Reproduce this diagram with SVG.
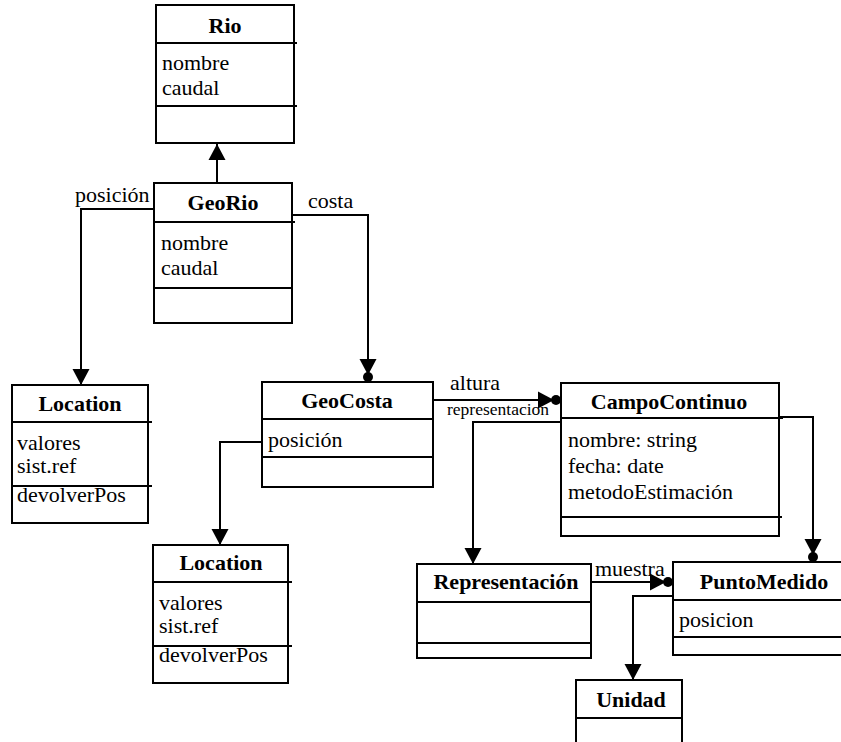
<svg xmlns="http://www.w3.org/2000/svg" width="841" height="742" viewBox="0 0 841 742">
  <style>
    .box { fill: #fff; stroke: #000; stroke-width: 2; }
    .sep { stroke: #000; stroke-width: 2; }
    text { font-family: "Liberation Serif", "DejaVu Serif", serif; fill: #000; }
    .title { font-size: 22px; font-weight: bold; text-anchor: middle; }
    .attr { font-size: 22px; }
    .lbl { font-size: 22px; }
    .small { font-size: 17.5px; }
    .conn { fill: none; stroke: #000; stroke-width: 2; }
  </style>
  <defs>
    <!-- filled triangular arrowhead -->
    <marker id="arrow" markerUnits="userSpaceOnUse" markerWidth="17" markerHeight="18" viewBox="0 0 17 18" refX="16" refY="9" orient="auto">
      <path d="M0,0.5 L16,9 L0,17.5 z" fill="#000"/>
    </marker>
    <!-- arrowhead followed by a dot (qualified association end) -->
    <marker id="arrowdot" markerUnits="userSpaceOnUse" markerWidth="24" markerHeight="18" viewBox="0 0 24 18" refX="23" refY="9" orient="auto">
      <path d="M0,0.5 L16,9 L0,17.5 z" fill="#000"/>
      <circle cx="18" cy="9" r="5" fill="#000"/>
    </marker>
  </defs>

  <rect width="841" height="742" fill="#fff"/>

  <!-- associations and generalization -->
  <g id="connectors">
    <path class="conn" d="M217,183 V144" marker-end="url(#arrow)"/>
    <path class="conn" d="M154,209 H81 V385" marker-end="url(#arrow)"/>
    <path class="conn" d="M292,215 H368 V382" marker-end="url(#arrowdot)"/>
    <path class="conn" d="M433,400 H561" marker-end="url(#arrowdot)"/>
    <path class="conn" d="M262,442 H220 V545" marker-end="url(#arrow)"/>
    <path class="conn" d="M561,422 H473 V564" marker-end="url(#arrow)"/>
    <path class="conn" d="M779,417 H813 V562" marker-end="url(#arrowdot)"/>
    <path class="conn" d="M591,582 H673" marker-end="url(#arrowdot)"/>
    <path class="conn" d="M673,596 H633 V680" marker-end="url(#arrow)"/>
    <text class="lbl" x="75" y="202" font-family="Liberation Serif, serif">posición</text>
    <text class="lbl" x="308" y="208" font-family="Liberation Serif, serif">costa</text>
    <text class="lbl" x="450" y="390" font-family="Liberation Serif, serif">altura</text>
    <text class="small" x="447" y="415" font-family="Liberation Serif, serif">representacion</text>
    <text class="lbl" x="595" y="576" font-family="Liberation Serif, serif">muestra</text>
  </g>

  <g id="rio">
    <rect class="box" x="156" y="5" width="138" height="138"/>
    <line class="sep" x1="156" y1="43" x2="297" y2="43"/>
    <line class="sep" x1="156" y1="106" x2="297" y2="106"/>
    <text class="title" x="225" y="33">Rio</text>
    <text class="attr" x="162" y="70">nombre</text>
    <text class="attr" x="162" y="95">caudal</text>
  </g>

  <g id="georio">
    <rect class="box" x="154" y="183" width="138" height="140"/>
    <line class="sep" x1="154" y1="222" x2="295" y2="222"/>
    <line class="sep" x1="154" y1="288" x2="292" y2="288"/>
    <text class="title" x="223" y="210">GeoRio</text>
    <text class="attr" x="161" y="250">nombre</text>
    <text class="attr" x="161" y="275">caudal</text>
  </g>

  <g id="location1">
    <rect class="box" x="12" y="385" width="136" height="138"/>
    <line class="sep" x1="12" y1="422" x2="152" y2="422"/>
    <line class="sep" x1="12" y1="486" x2="152" y2="486"/>
    <text class="title" x="80" y="411">Location</text>
    <text class="attr" x="17" y="450">valores</text>
    <text class="attr" x="17" y="473">sist.ref</text>
    <text class="attr" x="17" y="502">devolverPos</text>
  </g>

  <g id="geocosta">
    <rect class="box" x="262" y="382" width="171" height="105"/>
    <line class="sep" x1="262" y1="419" x2="433" y2="419"/>
    <line class="sep" x1="262" y1="457" x2="433" y2="457"/>
    <text class="title" x="347" y="408">GeoCosta</text>
    <text class="attr" x="268" y="447">posición</text>
  </g>

  <g id="location2">
    <rect class="box" x="153" y="545" width="135" height="138"/>
    <line class="sep" x1="153" y1="582" x2="292" y2="582"/>
    <line class="sep" x1="153" y1="646" x2="292" y2="646"/>
    <text class="title" x="221" y="570">Location</text>
    <text class="attr" x="159" y="610">valores</text>
    <text class="attr" x="159" y="633">sist.ref</text>
    <text class="attr" x="159" y="662">devolverPos</text>
  </g>

  <g id="campocontinuo">
    <rect class="box" x="561" y="383" width="218" height="153"/>
    <line class="sep" x1="561" y1="418" x2="783" y2="418"/>
    <line class="sep" x1="561" y1="517" x2="782" y2="517"/>
    <text class="title" x="669" y="409">CampoContinuo</text>
    <text class="attr" x="568" y="447">nombre: string</text>
    <text class="attr" x="568" y="473">fecha: date</text>
    <text class="attr" x="568" y="499">metodoEstimación</text>
  </g>

  <g id="representacion">
    <rect class="box" x="417" y="564" width="174" height="94"/>
    <line class="sep" x1="417" y1="602" x2="591" y2="602"/>
    <line class="sep" x1="417" y1="643" x2="591" y2="643"/>
    <text class="title" x="506" y="589">Representación</text>
  </g>

  <g id="puntomedido">
    <path class="box" d="M843,562 H673 V655 H843"/>
    <line class="sep" x1="673" y1="600" x2="843" y2="600"/>
    <line class="sep" x1="673" y1="637" x2="843" y2="637"/>
    <text class="title" x="764" y="589">PuntoMedido</text>
    <text class="attr" x="679" y="627">posicion</text>
  </g>

  <g id="unidad">
    <path class="box" d="M576,745 V680 H682 V745"/>
    <line class="sep" x1="576" y1="718" x2="682" y2="718"/>
    <text class="title" x="631" y="707">Unidad</text>
  </g>
</svg>
